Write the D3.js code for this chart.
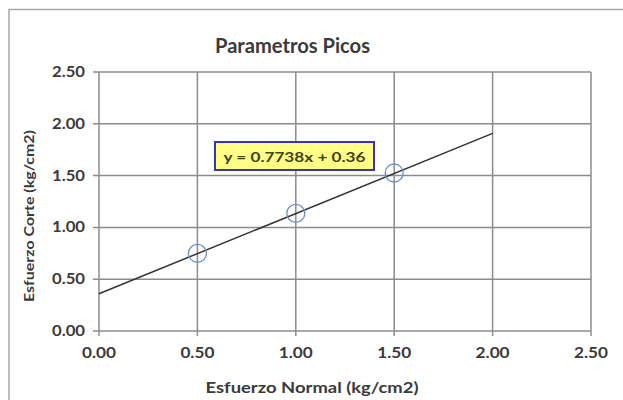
<!DOCTYPE html>
<html>
<head>
<meta charset="utf-8">
<script src="https://cdn.jsdelivr.net/npm/d3@7"></script>
<style>
  body { margin: 0; background: #fff; }
  text { font-family: Lato, "Open Sans", sans-serif; }
</style>
</head>
<body>
<svg id="chart" width="623" height="400"></svg>
<script>
// datos del ensayo
const normalStress = [0.5, 1.0, 1.5];
const shearStress = [0.75, 1.135, 1.525];
const xTicks = [0, 0.5, 1.0, 1.5, 2.0, 2.5];
const yTicks = [0, 0.5, 1.0, 1.5, 2.0, 2.5];
const slope = 0.7738;
const intercept = 0.36;
const trendRange = [0, 2.0];

const svg = d3.select('#chart');
const fmt = d3.format('.2f');

// borde del grafico
svg.append('rect')
    .attr('x', 9).attr('y', 9.5)
    .attr('width', 640).attr('height', 420)
    .attr('fill', '#fff')
    .attr('stroke', '#a6a6a6')
    .attr('stroke-width', 1.5);

const x = d3.scaleLinear().domain([0, 2.5]).range([99, 591]);
const y = d3.scaleLinear().domain([0, 2.5]).range([331, 72]);

// rejilla
const g = svg.append('g');
g.selectAll('line.vgrid')
    .data(xTicks)
    .join('line')
    .attr('class', 'vgrid')
    .attr('x1', d => x(d)).attr('x2', d => x(d))
    .attr('y1', y(2.5)).attr('y2', y(0) + 5)
    .attr('stroke', '#8c8c8c').attr('stroke-width', 1.5);

g.selectAll('line.hgrid')
    .data(yTicks)
    .join('line')
    .attr('class', 'hgrid')
    .attr('x1', x(0) - 6).attr('x2', x(2.5))
    .attr('y1', d => y(d)).attr('y2', d => y(d))
    .attr('stroke', '#8c8c8c').attr('stroke-width', 1.5);

// etiquetas de ejes
g.selectAll('text.ytick')
    .data(yTicks)
    .join('text')
    .attr('class', 'ytick')
    .attr('x', 85).attr('y', d => y(d))
    .attr('dy', '0.35em')
    .attr('text-anchor', 'end')
    .attr('font-size', 14.5).attr('font-weight', 'bold')
    .attr('textLength', 33).attr('lengthAdjust', 'spacingAndGlyphs')
    .attr('fill', '#3a3a3a')
    .text(d => fmt(d));

g.selectAll('text.xtick')
    .data(xTicks)
    .join('text')
    .attr('class', 'xtick')
    .attr('x', d => x(d)).attr('y', 358)
    .attr('text-anchor', 'middle')
    .attr('font-size', 14.5).attr('font-weight', 'bold')
    .attr('textLength', 34).attr('lengthAdjust', 'spacingAndGlyphs')
    .attr('fill', '#3a3a3a')
    .text(d => fmt(d));

// linea de tendencia
const line = d3.line().x(d => x(d)).y(d => y(slope * d + intercept));
svg.append('path')
    .attr('d', line(trendRange))
    .attr('fill', 'none')
    .attr('stroke', '#333')
    .attr('stroke-width', 1.5);

// puntos
svg.selectAll('circle.pt')
    .data(normalStress)
    .join('circle')
    .attr('class', 'pt')
    .attr('cx', d => x(d))
    .attr('cy', (d, i) => y(shearStress[i]))
    .attr('r', 9)
    .attr('fill', 'none')
    .attr('stroke', '#6f8ec0')
    .attr('stroke-width', 1.3);

// ecuacion
svg.append('rect')
    .attr('x', 215).attr('y', 142)
    .attr('width', 159).attr('height', 28)
    .attr('fill', '#ffff88')
    .attr('stroke', '#3535b5')
    .attr('stroke-width', 2);
svg.append('text')
    .attr('x', 294.5).attr('y', 157)
    .attr('dy', '0.35em')
    .attr('text-anchor', 'middle')
    .attr('font-size', 14).attr('font-weight', 'bold')
    .attr('textLength', 142).attr('lengthAdjust', 'spacingAndGlyphs')
    .attr('fill', '#3f4414')
    .text(`y = ${slope}x + ${intercept}`);

// titulos
svg.append('text')
    .attr('x', 292.5).attr('y', 53)
    .attr('text-anchor', 'middle')
    .attr('font-size', 20).attr('font-weight', 'bold')
    .attr('textLength', 155).attr('lengthAdjust', 'spacingAndGlyphs')
    .attr('fill', '#3a3a3a')
    .text('Parametros Picos');

svg.append('text')
    .attr('x', 312).attr('y', 393)
    .attr('text-anchor', 'middle')
    .attr('font-size', 14.5).attr('font-weight', 'bold')
    .attr('textLength', 213).attr('lengthAdjust', 'spacingAndGlyphs')
    .attr('fill', '#3a3a3a')
    .text('Esfuerzo Normal (kg/cm2)');

svg.append('text')
    .attr('transform', 'translate(34,216) rotate(-90)')
    .attr('text-anchor', 'middle')
    .attr('font-size', 13.5).attr('font-weight', 'bold')
    .attr('textLength', 172).attr('lengthAdjust', 'spacingAndGlyphs')
    .attr('fill', '#3a3a3a')
    .text('Esfuerzo Corte (kg/cm2)');
</script>
</body>
</html>
